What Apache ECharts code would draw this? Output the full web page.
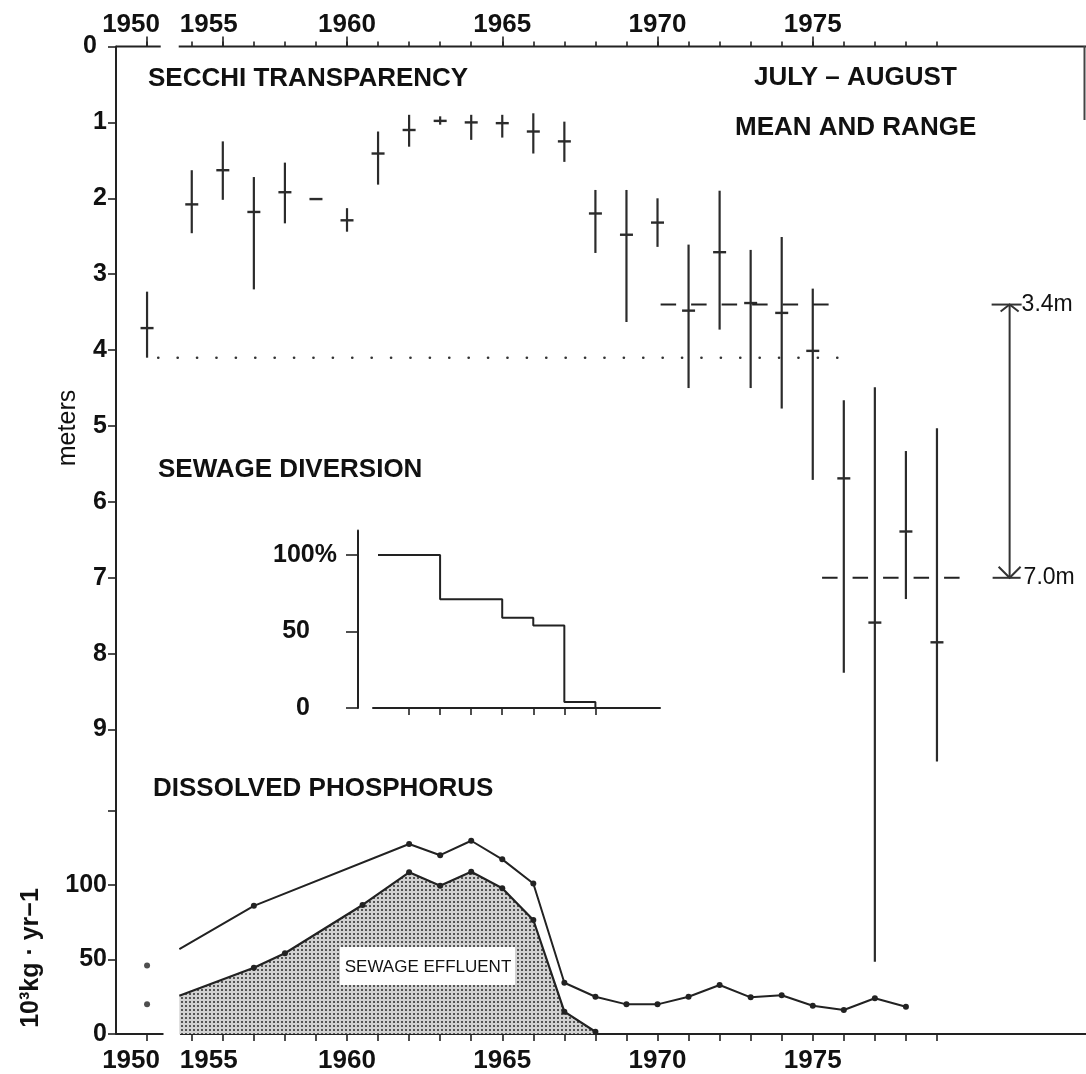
<!DOCTYPE html>
<html>
<head>
<meta charset="utf-8">
<title>Secchi transparency, sewage diversion and dissolved phosphorus</title>
<script src="https://cdn.jsdelivr.net/npm/echarts@6/dist/echarts.min.js"></script>
<style>
  html, body { margin: 0; padding: 0; background: #fff; }
  #chart { width: 1086px; height: 1074px; }
</style>
</head>
<body>
<div id="chart"></div>
<script>
// ---------- Secchi depth, July–August: mean and range (m) ----------
const years = [1950, 1955, 1956, 1957, 1958, 1959, 1960, 1961, 1962, 1963, 1964, 1965, 1966,
               1967, 1968, 1969, 1970, 1971, 1972, 1973, 1974, 1975, 1976, 1977, 1978, 1979];
const secchiMean    = [3.71, 2.08, 1.63, 2.18, 1.92, 2.01, 2.29, 1.41, 1.10, 0.98, 1.00, 1.01, 1.12,
                       1.25, 2.20, 2.48, 2.32, 3.48, 2.71, 3.38, 3.51, 4.01, 5.69, 7.59, 6.39, 7.85];
const secchiShallow = [3.23, 1.63, 1.25, 1.72, 1.53, 2.01, 2.13, 1.12, 0.90, 0.92, 0.90, 0.90, 0.88,
                       0.99, 1.89, 1.89, 2.00, 2.61, 1.90, 2.68, 2.51, 3.19, 4.66, 4.49, 5.33, 5.03];
const secchiDeep    = [4.10, 2.46, 2.02, 3.20, 2.33, 2.01, 2.44, 1.82, 1.32, 1.03, 1.23, 1.20, 1.41,
                       1.52, 2.72, 3.63, 2.64, 4.50, 3.73, 4.50, 4.77, 5.71, 8.25, 12.06, 7.28, 9.42];

// Reference depths (m): early level, and the 1971–75 / 1976–79 period means
const earlyLevel = 4.1;
const earlySpan = [1950, 1976.4];
const periodMeans = [3.4, 7.0];
const periodSpans = [[1970.1, 1975.6], [1975.3, 1980.0]];

// ---------- Sewage diversion (% of effluent still entering the lake) ----------
const diversionYears = [1961, 1963, 1965, 1966, 1967, 1968];
const diversionPct   = [100, 71, 59, 54, 4, 0];

// ---------- Dissolved phosphorus input (10^3 kg / yr) ----------
const phosYears = [1950, 1954.6, 1957, 1962, 1963, 1964, 1965, 1966, 1967, 1968, 1969, 1970,
                   1971, 1972, 1973, 1974, 1975, 1976, 1977, 1978];
const totalP    = [46, 57, 86, 127.5, 120, 129.7, 117.2, 101, 34.4, 25, 19.9, 19.9,
                   25, 32.9, 24.6, 26, 19, 16.1, 24, 18.3];
const effluentYears = [1950, 1954.6, 1957, 1958, 1960.5, 1962, 1963, 1964, 1965, 1966, 1967, 1968];
const effluentP     = [19.9, 25.7, 44.5, 54.2, 86.6, 108.5, 99.5, 108.9, 97.8, 76.5, 15, 1.5];

// ---------- Tick values ----------
const yearTicks = [1950, 1955, 1956, 1957, 1958, 1959, 1960, 1961, 1962, 1963, 1964, 1965, 1966,
                   1967, 1968, 1969, 1970, 1971, 1972, 1973, 1974, 1975, 1976, 1977, 1978, 1979];
const yearLabels = [1950, 1955, 1960, 1965, 1970, 1975];
const topMajorTicks = [1950, 1956, 1960, 1965, 1970, 1975];
const depthTicks = [0, 1, 2, 3, 4, 5, 6, 7, 8, 9];
const phosTicks = [0, 50, 100, 150];
const phosLabels = [0, 50, 100];
const diversionTickYears = [1962, 1963, 1964, 1965, 1966, 1967, 1968];
const pctTicks = [0, 50, 100];

// ---------- Broken time axis: 1950 sits just left of the break ----------
const X_MIN = 1952.56, X_MAX = 1983.8;
const POS_1950 = 1953.56;
const TOP_BREAK = [1954.0, 1954.58];
const BOTTOM_BREAK = [1954.09, 1954.62];
const pos = y => (y === 1950 ? POS_1950 : y);
const ARROW_X = 1981.34;

const INK = '#222';
const FONT = 'Liberation Sans';

// halftone-like fill for the sewage effluent area
const dotTile = document.createElement('canvas');
dotTile.width = 4; dotTile.height = 4;
(function () {
  const c = dotTile.getContext('2d');
  c.fillStyle = '#d2d2d2'; c.fillRect(0, 0, 4, 4);
  c.fillStyle = '#555'; c.fillRect(1, 1, 2, 2);
})();

function yearLabel(v) {
  if (Math.abs(v - POS_1950) < 0.01) return '{l|1950}';
  if (v === 1955) return '{r|1955}';
  return String(Math.round(v));
}
const yearRich = {
  l: { padding: [0, 32, 0, 0], fontSize: 26, fontFamily: FONT, fontWeight: 'bold', color: '#111' },
  r: { padding: [0, 0, 0, 34], fontSize: 26, fontFamily: FONT, fontWeight: 'bold', color: '#111' }
};

function renderSecchi(params, api) {
  const x = api.value(0);
  const m = api.coord([x, api.value(1)]);
  const a = api.coord([x, api.value(2)]);
  const b = api.coord([x, api.value(3)]);
  const children = [];
  if (b[1] - a[1] > 1) {
    children.push({ type: 'line', shape: { x1: a[0], y1: a[1], x2: b[0], y2: b[1] },
                    style: { stroke: '#2b2b2b', lineWidth: 2.2 } });
  }
  children.push({ type: 'line', shape: { x1: m[0] - 6.5, y1: m[1], x2: m[0] + 6.5, y2: m[1] },
                  style: { stroke: '#2b2b2b', lineWidth: 2.4 } });
  return { type: 'group', children };
}

function renderAxisRun(params, api) {
  const p1 = api.coord([api.value(0), 0]);
  const p2 = api.coord([api.value(1), 0]);
  return { type: 'line', shape: { x1: p1[0], y1: p1[1], x2: p2[0], y2: p2[1] },
           style: { stroke: INK, lineWidth: 2 } };
}

// double-headed arrow between the two period means, labelled with their values
function renderArrow(params, api) {
  const x = api.value(0);
  const top = api.coord([x, api.value(1)]);
  const bot = api.coord([x, api.value(2)]);
  const s = { stroke: '#333', lineWidth: 2, fill: null };
  const cx = top[0];
  const lbl = (t, lx, ly) => ({
    type: 'text', x: lx, y: ly,
    style: { text: t, fontSize: 23, fontFamily: FONT, fill: '#111',
             align: 'left', verticalAlign: 'middle', textAlign: 'left', textVerticalAlign: 'middle' }
  });
  return {
    type: 'group',
    children: [
      { type: 'line', shape: { x1: cx, y1: top[1], x2: cx, y2: bot[1] }, style: s },
      { type: 'polyline', shape: { points: [[cx - 9, top[1] + 7], [cx, top[1]], [cx + 9, top[1] + 7]] }, style: s },
      { type: 'polyline', shape: { points: [[cx - 11, bot[1] - 11], [cx, bot[1]], [cx + 11, bot[1] - 11]] }, style: s },
      { type: 'line', shape: { x1: cx - 18, y1: top[1], x2: cx + 12, y2: top[1] }, style: s },
      { type: 'line', shape: { x1: cx - 17, y1: bot[1], x2: cx + 11, y2: bot[1] }, style: s },
      lbl(api.value(1).toFixed(1) + 'm', cx + 12, top[1]),
      lbl(api.value(2).toFixed(1) + 'm', cx + 14, bot[1])
    ]
  };
}

function textEl(text, x, y, size, opts) {
  opts = opts || {};
  return {
    type: 'text', x: x, y: y, rotation: opts.rotation || 0, z: 100,
    style: {
      text: text, fontSize: size, fontFamily: FONT, fontWeight: opts.weight || 'normal', fill: '#111',
      align: opts.align || 'left', verticalAlign: 'middle',
      textAlign: opts.align || 'left', textVerticalAlign: 'middle'
    }
  };
}

const axisLineStyle = { color: INK, width: 2 };
const tickStyle = { color: INK, width: 1.6 };
const labelBase = { color: '#111', fontFamily: FONT, fontWeight: 'bold' };

const chart = echarts.init(document.getElementById('chart'), null, { renderer: 'canvas' });

chart.setOption({
  animation: false,
  backgroundColor: '#fff',
  textStyle: { fontFamily: FONT },
  grid: [
    { left: 116, top: 46.5, width: 970, height: 13 * 75.9 },               // Secchi depth
    { left: 116, top: 1034 - 150 * 1.49, width: 970, height: 150 * 1.49 }, // phosphorus
    { left: 373, top: 708 - 116 * 1.53, width: 287, height: 116 * 1.53 }   // diversion inset
  ],
  xAxis: [
    { gridIndex: 0, type: 'value', position: 'top', min: X_MIN, max: X_MAX,
      axisLine: { show: false }, splitLine: { show: false },
      axisTick: { show: true, length: 5, lineStyle: tickStyle, customValues: yearTicks.map(pos) },
      axisLabel: Object.assign({ customValues: yearLabels.map(pos), formatter: yearLabel, rich: yearRich,
                                 fontSize: 26, margin: 9 }, labelBase) },
    { gridIndex: 0, type: 'value', position: 'top', min: X_MIN, max: X_MAX,
      axisLine: { show: false }, splitLine: { show: false }, axisLabel: { show: false },
      axisTick: { show: true, length: 10, lineStyle: tickStyle, customValues: topMajorTicks.map(pos) } },
    { gridIndex: 1, type: 'value', position: 'bottom', min: X_MIN, max: X_MAX,
      axisLine: { show: false }, splitLine: { show: false },
      axisTick: { show: true, length: 7, lineStyle: tickStyle, customValues: yearTicks.map(pos) },
      axisLabel: Object.assign({ customValues: yearLabels.map(pos), formatter: yearLabel, rich: yearRich,
                                 fontSize: 26, margin: 14 }, labelBase) },
    { gridIndex: 2, type: 'value', position: 'bottom', min: 1960.84, max: 1970.08,
      axisLine: { show: true, lineStyle: axisLineStyle }, splitLine: { show: false },
      axisTick: { show: true, length: 7, lineStyle: tickStyle, customValues: diversionTickYears },
      axisLabel: { show: false } }
  ],
  yAxis: [
    { gridIndex: 0, type: 'value', inverse: true, min: 0, max: 13,
      axisLine: { show: true, lineStyle: axisLineStyle }, splitLine: { show: false },
      axisTick: { show: true, length: 8, lineStyle: tickStyle, customValues: depthTicks },
      axisLabel: Object.assign({ customValues: depthTicks, fontSize: 25, margin: 9,
        formatter: v => (v === 0 ? '{z|0}' : String(v)),
        rich: { z: { padding: [0, 10, 0, 0], fontSize: 25, fontFamily: FONT, fontWeight: 'bold', color: '#111' } } },
        labelBase) },
    { gridIndex: 1, type: 'value', min: 0, max: 150,
      axisLine: { show: true, lineStyle: axisLineStyle }, splitLine: { show: false },
      axisTick: { show: true, length: 8, lineStyle: tickStyle, customValues: phosTicks },
      axisLabel: Object.assign({ customValues: phosLabels, fontSize: 25, margin: 9 }, labelBase) },
    { gridIndex: 2, type: 'value', min: 0, max: 116, offset: 15,
      axisLine: { show: true, lineStyle: axisLineStyle }, splitLine: { show: false },
      axisTick: { show: true, length: 12, lineStyle: tickStyle, customValues: pctTicks },
      axisLabel: Object.assign({ customValues: pctTicks, fontSize: 25, margin: 21,
        formatter: v => (v === 100 ? '100%' : '{n|' + v + '}'),
        rich: { n: { padding: [0, 27, 0, 0], fontSize: 25, fontFamily: FONT, fontWeight: 'bold', color: '#111' } } },
        labelBase) }
  ],
  series: [
    // broken time axes
    { type: 'custom', xAxisIndex: 0, yAxisIndex: 0, renderItem: renderAxisRun, silent: true,
      data: [[X_MIN, TOP_BREAK[0]], [TOP_BREAK[1], X_MAX]] },
    { type: 'custom', xAxisIndex: 2, yAxisIndex: 1, renderItem: renderAxisRun, silent: true,
      data: [[X_MIN, BOTTOM_BREAK[0]], [BOTTOM_BREAK[1], X_MAX]] },

    // Secchi mean and range
    { type: 'custom', name: 'Secchi', xAxisIndex: 0, yAxisIndex: 0, renderItem: renderSecchi,
      encode: { x: 0, y: [1, 2, 3] },
      data: years.map((y, i) => [pos(y), secchiMean[i], secchiShallow[i], secchiDeep[i]]) },

    // early reference level (dotted)
    { type: 'line', xAxisIndex: 0, yAxisIndex: 0, symbol: 'none', silent: true,
      lineStyle: { color: '#333', width: 2.6, type: [0.1, 19.3], cap: 'round' },
      data: [[pos(earlySpan[0]) + 0.36, earlyLevel], [earlySpan[1], earlyLevel]] },

    // period means (dashed)
    ...periodMeans.map((d, k) => ({
      type: 'line', xAxisIndex: 0, yAxisIndex: 0, symbol: 'none', silent: true,
      lineStyle: { color: '#222', width: 2, type: [15.5, 15] },
      data: [[periodSpans[k][0], d], [periodSpans[k][1], d]]
    })),

    // change between the two period means
    { type: 'custom', xAxisIndex: 0, yAxisIndex: 0, renderItem: renderArrow, silent: true,
      data: [[ARROW_X, periodMeans[0], periodMeans[1]]] },

    // sewage diversion inset
    { type: 'line', xAxisIndex: 3, yAxisIndex: 2, step: 'end', symbol: 'none',
      lineStyle: { color: INK, width: 2 },
      data: diversionYears.map((y, i) => [y, diversionPct[i]]) },

    // sewage effluent share of dissolved phosphorus
    { type: 'line', xAxisIndex: 2, yAxisIndex: 1, symbol: 'circle',
      symbolSize: (v, p) => (p.dataIndex === 0 ? 0 : 6),
      itemStyle: { color: INK }, lineStyle: { color: INK, width: 2.2 },
      areaStyle: { color: { image: dotTile, repeat: 'repeat' }, opacity: 1 },
      data: effluentYears.slice(1).map((y, i) => [y, effluentP[i + 1]]) },

    // total dissolved phosphorus
    { type: 'line', xAxisIndex: 2, yAxisIndex: 1, symbol: 'circle',
      symbolSize: (v, p) => (p.dataIndex === 0 ? 0 : 6),
      itemStyle: { color: INK }, lineStyle: { color: INK, width: 2 },
      data: phosYears.slice(1).map((y, i) => [y, totalP[i + 1]]) },

    // 1950 values, left of the break
    { type: 'scatter', xAxisIndex: 2, yAxisIndex: 1, symbolSize: 6, itemStyle: { color: INK },
      data: [[pos(phosYears[0]), totalP[0]], [pos(effluentYears[0]), effluentP[0]]] }
  ],
  graphic: [
    textEl('SECCHI TRANSPARENCY', 148, 79, 26, { weight: 'bold' }),
    textEl('JULY – AUGUST', 754, 78, 26, { weight: 'bold' }),
    textEl('MEAN AND RANGE', 735, 128, 26, { weight: 'bold' }),
    textEl('SEWAGE DIVERSION', 158, 470, 26, { weight: 'bold' }),
    textEl('DISSOLVED PHOSPHORUS', 153, 789, 26, { weight: 'bold' }),
    textEl('meters', 68, 428, 25, { rotation: Math.PI / 2, align: 'center' }),
    textEl('10³kg · yr−1', 31, 958, 25, { rotation: Math.PI / 2, align: 'center', weight: 'bold' }),
    { type: 'rect', z: 99, shape: { x: 340, y: 947, width: 175, height: 38 }, style: { fill: '#fff' } },
    textEl('SEWAGE EFFLUENT', 428, 967, 17, { align: 'center' }),
    { type: 'line', z: 99, shape: { x1: 1084.5, y1: 46, x2: 1084.5, y2: 120 }, style: { stroke: '#444', lineWidth: 2 } }
  ]
});
</script>
</body>
</html>
